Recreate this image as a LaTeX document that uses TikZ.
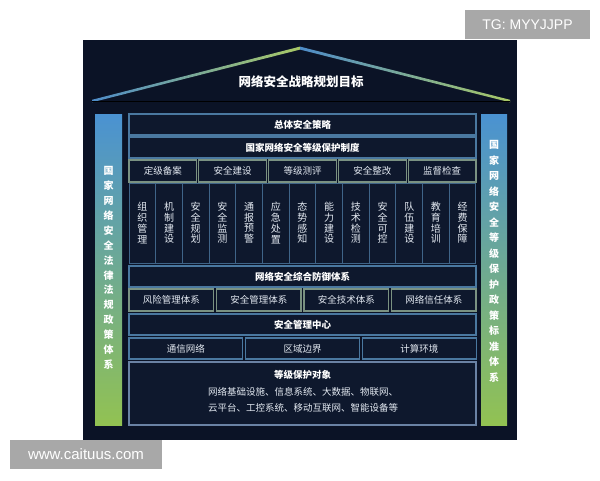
\documentclass[tikz,border=0pt]{standalone}
\usepackage{fontspec}
\newfontfamily\cjk{Noto Sans CJK SC}
\newfontfamily\wmfont{Liberation Sans}
\definecolor{bgnavy}{HTML}{0B1326}
\definecolor{boxfill}{HTML}{0E182D}
\definecolor{barline}{HTML}{4A78A0}
\definecolor{cellline}{HTML}{7A9282}
\definecolor{gridline}{HTML}{3F6488}
\definecolor{bigline}{HTML}{6A82A4}
\definecolor{sideblue}{HTML}{4A92D2}
\definecolor{sidegreen}{HTML}{92C252}
\definecolor{roofblue}{HTML}{4E8CC8}
\definecolor{roofgreen}{HTML}{A8C866}
\definecolor{baseline}{HTML}{5A7494}
\definecolor{txt}{HTML}{E4EAF2}
\definecolor{wmgray}{HTML}{A8A8A8}
\begin{document}
\begin{tikzpicture}[x=1pt,y=-1pt,
  bar/.style={draw=barline, line width=1.2pt, fill=boxfill, text=white,
    minimum width=347, inner sep=0pt, font=\cjk\bfseries\fontsize{9.5}{11}\selectfont},
  cellbox/.style={draw=cellline, line width=1.2pt, fill=boxfill, text=txt,
    inner sep=0pt, font=\cjk\fontsize{9.5}{11}\selectfont},
  gridcell/.style={draw=gridline, line width=1pt, fill=boxfill, text=txt,
    minimum width=26.69, minimum height=80, inner sep=0pt, align=center,
    font=\cjk\fontsize{10}{10.7}\selectfont},
  sidetxt/.style={text=white, align=center, inner sep=0pt},
  wm/.style={fill=wmgray, text=white, inner sep=0pt, font=\wmfont\fontsize{14}{16}\selectfont}
]
\useasboundingbox (0,0) rectangle (600,480);
\fill[white] (0,0) rectangle (600,480);
\fill[bgnavy] (83,40) rectangle (517,440);

% roof
\shade[left color=roofblue, right color=roofgreen] (92,99.8) -- (300,46.6) -- (300,49.6) -- (92,102.3) -- cycle;
\shade[left color=roofblue, right color=roofgreen] (300,46.6) -- (510,99.8) -- (510,102.3) -- (300,49.6) -- cycle;
\draw[baseline, line width=1.3pt] (92,101.3) -- (510,101.3);
\node[text=white, font=\cjk\bfseries\fontsize{12.5}{14}\selectfont] (title) at (301,82) {网络安全战略规划目标};

% side bars
\shade[top color=sideblue, bottom color=sidegreen] (95,114) rectangle (122,425);
\shade[top color=sideblue, bottom color=sidegreen] (481,114) rectangle (507,425);
\node[sidetxt, font=\cjk\bfseries\fontsize{10}{14.9}\selectfont] (lefttxt) at (108.5,268)
  {国\\家\\网\\络\\安\\全\\法\\律\\法\\规\\政\\策\\体\\系};
\node[sidetxt, font=\cjk\bfseries\fontsize{10}{15.5}\selectfont] (righttxt) at (494,261.5)
  {国\\家\\网\\络\\安\\全\\等\\级\\保\\护\\政\\策\\标\\准\\体\\系};

% rows
\node[bar, minimum height=21] (r1) at (302.5,124.5) {总体安全策略};
\node[bar, minimum height=21] (r2) at (302.5,147.5) {国家网络安全等级保护制度};

\foreach \t [count=\i from 0] in {定级备案,安全建设,等级测评,安全整改,监督检查}
  \node[cellbox, minimum width=67.8, minimum height=22] (a\i) at ({162.9+\i*69.8},171) {\t};

\foreach \t [count=\i from 0] in {组\\织\\管\\理,机\\制\\建\\设,安\\全\\规\\划,安\\全\\监\\测,
  通\\报\\预\\警,应\\急\\处\\置,态\\势\\感\\知,能\\力\\建\\设,技\\术\\检\\测,
  安\\全\\可\\控,队\\伍\\建\\设,教\\育\\培\\训,经\\费\\保\\障}
  \node[gridcell] (g\i) at ({142.35+\i*26.69},223) {\t};

\node[bar, minimum height=21] (r5) at (302.5,276.5) {网络安全综合防御体系};

\foreach \t [count=\i from 0] in {风险管理体系,安全管理体系,安全技术体系,网络信任体系}
  \node[cellbox, minimum width=84.5, minimum height=22] (b\i) at ({171.25+\i*87.5},300) {\t};

\node[bar, minimum height=21] (r7) at (302.5,324.5) {安全管理中心};

\foreach \t [count=\i from 0] in {通信网络,区域边界,计算环境}
  \node[cellbox, draw=barline, minimum width=113.7, minimum height=21] (c\i) at ({185.85+\i*116.7},348.5) {\t};

\node[draw=bigline, line width=1.2pt, fill=boxfill, minimum width=347, minimum height=63, inner sep=0pt] (r9) at (302.5,393.5) {};
\node[text=white, font=\cjk\bfseries\fontsize{9.5}{11}\selectfont] (r9t) at (302.5,374.5) {等级保护对象};
\node[text=txt, align=center, font=\cjk\fontsize{9.5}{16}\selectfont] (r9b) at (303,400)
  {网络基础设施、信息系统、大数据、物联网、\\云平台、工控系统、移动互联网、智能设备等};

% watermarks
\node[wm, minimum width=125, minimum height=29] (wm1) at (527.5,24.5) {TG: MYYJJPP};
\node[wm, minimum width=152, minimum height=29, font=\wmfont\fontsize{15}{17}\selectfont] (wm2) at (86,454.5) {www.caituus.com};
\end{tikzpicture}
\end{document}
